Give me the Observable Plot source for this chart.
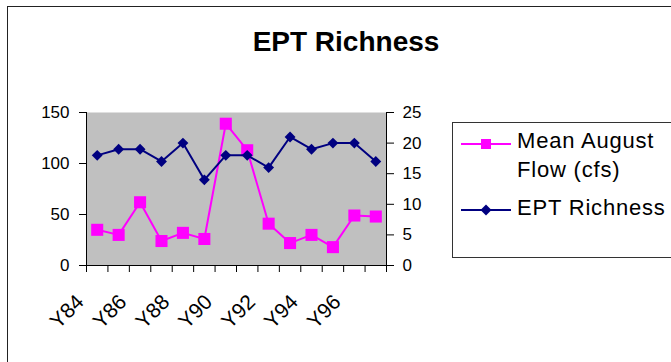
<!DOCTYPE html>
<html>
<head>
<meta charset="utf-8">
<script src="https://cdn.jsdelivr.net/npm/d3@7"></script>
<script src="https://cdn.jsdelivr.net/npm/@observablehq/plot@0.6"></script>
<style>
  body { margin: 0; background: #fff; }
  #wrap { position: relative; width: 671px; height: 362px; overflow: hidden; background: #fff; font-family: "Liberation Sans", Arial, sans-serif; }
  #border { position: absolute; left: 7px; top: 6px; width: 700px; height: 400px; border-top: 1.5px solid #222; border-left: 1.5px solid #222; box-sizing: border-box; }
  #title { position: absolute; left: 246px; width: 200px; top: 28px; text-align: center; font-size: 28px; line-height: 28px; font-weight: bold; white-space: nowrap; }
  #chart { position: absolute; left: 0; top: 0; }
  #legend { position: absolute; left: 452px; top: 122px; width: 240px; height: 136px; border: 1px solid #333; box-sizing: border-box; }
  .lg-text { position: absolute; font-size: 22px; line-height: 22px; letter-spacing: 0.8px; white-space: nowrap; }
  .lg-sw { position: absolute; }
</style>
</head>
<body>
<div id="wrap">
  <div id="border"></div>
  <div id="chart"></div>
  <div id="title">EPT Richness</div>
  <div id="legend"></div>
</div>
<script>
// ---- data ----
const years = ["Y84","Y85","Y86","Y87","Y88","Y89","Y90","Y91","Y92","Y93","Y94","Y95","Y96","Y97"];
const flow = [35, 30, 62, 24, 32, 26, 139, 113, 41, 22, 30, 18, 49, 48];   // Mean August Flow (cfs), left axis
const ept  = [18, 19, 19, 17, 20, 14, 18, 18, 16, 21, 19, 20, 20, 17];      // EPT Richness, right axis
const xTickLabels = ["Y84","Y86","Y88","Y90","Y92","Y94","Y96"];
const leftTicks = [0, 50, 100, 150];
const rightTicks = [0, 5, 10, 15, 20, 25];
const seriesNames = ["Mean August Flow (cfs)", "EPT Richness"];

// ---- derived tables ----
const leftMax = 150, rightMax = 25, ratio = leftMax / rightMax;
const flowData = years.map((y, i) => ({year: y, i: i + 0.5, v: flow[i]}));
const eptData = years.map((y, i) => ({year: y, i: i + 0.5, v: ept[i] * ratio}));
const labelData = xTickLabels.map(t => ({t, i: years.indexOf(t) + 0.5}));
const boundaries = d3.range(0, years.length + 1);

const MAG = "#ff00ff", NAVY = "#000080";
const font = "'Liberation Sans', Arial, sans-serif";

const chart = Plot.plot({
  width: 671, height: 362,
  marginLeft: 86, marginRight: 285, marginTop: 112, marginBottom: 97,
  style: {fontFamily: font, fontSize: "17px", color: "black", background: "transparent", overflow: "visible"},
  x: {type: "linear", domain: [0, years.length]},
  y: {domain: [0, leftMax]},
  marks: [
    Plot.frame({fill: "#c0c0c0", stroke: null}),
    Plot.axisY(leftTicks, {anchor: "left", tickSize: 7, tickPadding: 10, fontSize: 17, label: null}),
    Plot.axisY(rightTicks.map(v => v * ratio), {anchor: "right", tickSize: 7, tickPadding: 9, fontSize: 17, tickFormat: d => d / ratio, label: null}),
    Plot.axisX(boundaries, {anchor: "bottom", tickSize: 7, tickFormat: () => "", label: null}),
    Plot.ruleX([0, years.length], {stroke: "black", strokeWidth: 1}),
    Plot.ruleY([0], {stroke: "black", strokeWidth: 1}),
    Plot.text(labelData, {x: "i", y: 0, text: "t", rotate: -45, textAnchor: "end", lineAnchor: "middle", dx: -17, dy: 33, fontSize: 21, fill: "black"}),
    Plot.line(flowData, {x: "i", y: "v", stroke: MAG, strokeWidth: 2}),
    Plot.dot(flowData, {x: "i", y: "v", symbol: "square", r: 6.8, fill: MAG, stroke: null}),
    Plot.line(eptData, {x: "i", y: "v", stroke: NAVY, strokeWidth: 2}),
    Plot.dot(eptData, {x: "i", y: "v", symbol: "diamond2", r: 4.9, fill: NAVY, stroke: null})
  ]
});
document.getElementById("chart").appendChild(chart);

// ---- legend ----
const legend = document.getElementById("legend");
const lx = 452, ly = 122;
function swatch(color, sym, cy) {
  const s = d3.create("svg").attr("class", "lg-sw").attr("width", 60).attr("height", 20)
    .style("left", (461 - lx - 1) + "px").style("top", (cy - 10 - ly - 1) + "px");
  s.append("line").attr("x1", 0).attr("x2", 50).attr("y1", 10).attr("y2", 10).attr("stroke", color).attr("stroke-width", 2);
  if (sym === "square") s.append("rect").attr("x", 20).attr("y", 5).attr("width", 10).attr("height", 10).attr("fill", color);
  else s.append("path").attr("d", "M25,4.5L30.5,10L25,15.5L19.5,10Z").attr("fill", color);
  legend.appendChild(s.node());
}
function ltext(str, baseline) {
  const d = document.createElement("div");
  d.className = "lg-text";
  d.textContent = str;
  d.style.left = (517 - lx - 1) + "px";
  d.style.top = (baseline - 22 * 0.8465 - ly - 1) + "px";
  legend.appendChild(d);
}
swatch(MAG, "square", 144.3);
ltext("Mean August", 148.3);
ltext("Flow (cfs)", 177.7);
swatch(NAVY, "diamond", 210);
ltext("EPT Richness", 215.7);
</script>
</body>
</html>
